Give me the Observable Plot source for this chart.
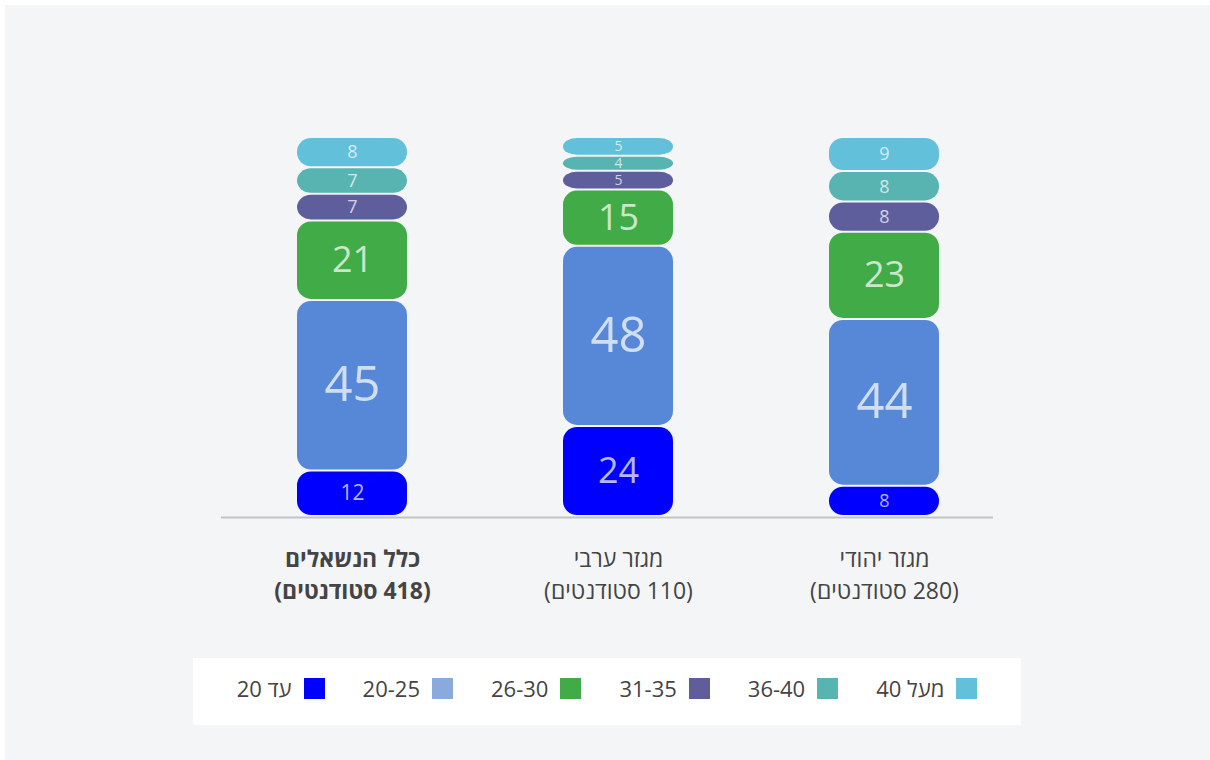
<!DOCTYPE html>
<html>
<head>
<meta charset="utf-8">
<script src="https://cdn.jsdelivr.net/npm/d3@7"></script>
<script src="https://cdn.jsdelivr.net/npm/@observablehq/plot@0.6"></script>
<style>
  html, body { margin: 0; padding: 0; background: #ffffff; width: 1210px; height: 760px; overflow: hidden; }
  #panel { position: absolute; left: 5px; top: 5px; width: 1205px; height: 755px; background: #f4f5f7; }
  #chart { position: absolute; left: 0; top: 0; }
  #legend { position: absolute; left: 193px; top: 658px; width: 828px; height: 67px; background: #ffffff;
            display: flex; justify-content: center; align-items: flex-start; gap: 38px; padding-top: 17px; box-sizing: border-box;
            font-family: 'Open Sans', 'Liberation Sans', sans-serif; font-size: 22px; color: #444; }
  .item { display: flex; align-items: center; gap: 12px; height: 26px; line-height: 26px; }
  .sw { width: 21px; height: 21px; display: inline-block; }
</style>
</head>
<body>
<div id="panel"></div>
<div id="chart"></div>
<div id="legend"></div>
<script>
// Categories (left to right in the picture)
const groups = ["כלל הנשאלים", "מגזר ערבי", "מגזר יהודי"];
const groupCounts = ["(418 סטודנטים)", "(110 סטודנטים)", "(280 סטודנטים)"];
// Age bands, bottom to top
const ages = ["20 עד", "20-25", "26-30", "31-35", "36-40", "מעל 40"];
// Percentages per group (bottom to top)
const totalValues = [12, 45, 21, 7, 7, 8];
const arabValues = [24, 48, 15, 5, 4, 5];
const jewishValues = [8, 44, 23, 8, 8, 9];
// Colours
const barColors = ["#0000ff", "#5788d8", "#41ab48", "#5f5e9d", "#58b4b1", "#63c0da"];
const legendColors = ["#0000ff", "#8aaadb", "#41ab48", "#5f5e9b", "#58b4b1", "#63c0da"];

const seriesByGroup = [totalValues, arabValues, jewishValues];
const data = [];
groups.forEach((g, gi) => {
  ages.forEach((a, ai) => data.push({group: g, age: a, value: seriesByGroup[gi][ai]}));
});
// right-to-left embedding for the mixed Hebrew/number line
const rtl = s => "\u202B" + s + "\u202C";
const labels = groups.map((g, i) => ({group: g, label: g + "\n" + rtl(groupCounts[i]), bold: i === 0}));

function sizeFor(v) {
  if (v <= 5) return 14;
  if (v <= 9) return 18;
  if (v <= 12) return 21;
  if (v <= 30) return 36;
  return 49;
}

const labelOpts = {
  x: "group", text: "label", frameAnchor: "bottom", lineAnchor: "top", dy: 28,
  lineHeight: 1.39, fontSize: 23, fill: "#444"
};

const plot = Plot.plot({
  width: 1210,
  height: 640,
  marginTop: 137,
  marginBottom: 124,
  marginLeft: 221,
  marginRight: 217,
  style: {fontFamily: "'Open Sans', 'Liberation Sans', sans-serif", background: "transparent"},
  x: {domain: groups, range: [232, 1004], paddingInner: 0.5865, paddingOuter: 0.244, axis: null},
  y: {axis: null},
  color: {domain: ages, range: barColors},
  marks: [
    Plot.ruleY([0], {stroke: "#c2c3c6", strokeWidth: 2, dy: 1}),
    Plot.rectY(data, Plot.stackY({
      x: "group", y: "value", fill: "age", offset: "normalize",
      rx: 14, insetTop: 1, insetBottom: 1, ariaLabel: "bars"
    })),
    Plot.text(data, Plot.stackY({
      x: "group", y: "value", text: "value", offset: "normalize",
      fill: "white", fillOpacity: 0.72, fontSize: d => sizeFor(d.value)
    })),
    Plot.text(labels.filter(d => d.bold), {...labelOpts, fontWeight: "bold"}),
    Plot.text(labels.filter(d => !d.bold), labelOpts)
  ]
});
const bars = plot.querySelector('g[aria-label="bars"]');
if (bars) bars.style.filter = "drop-shadow(0px 3px 7px rgba(0,0,0,0.3))";
document.getElementById("chart").appendChild(plot);

const legend = document.getElementById("legend");
ages.forEach((a, i) => {
  const item = document.createElement("div");
  item.className = "item";
  const t = document.createElement("span");
  t.textContent = a;
  const s = document.createElement("span");
  s.className = "sw";
  s.style.background = legendColors[i];
  item.appendChild(t);
  item.appendChild(s);
  legend.appendChild(item);
});
</script>
</body>
</html>
